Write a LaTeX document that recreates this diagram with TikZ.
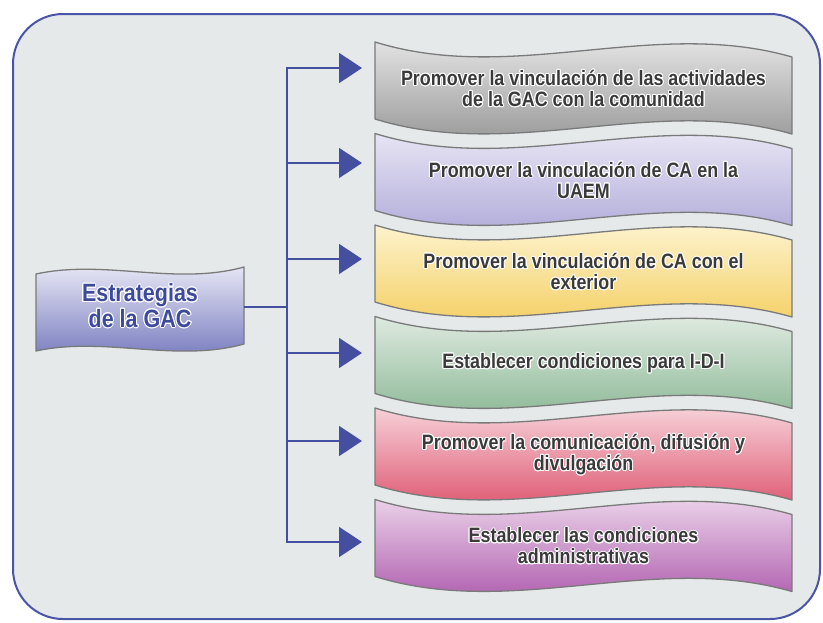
\documentclass[tikz,border=0pt]{standalone}
\usepackage{fontspec}
\setmainfont{Liberation Sans}[FakeStretch=0.86]
\usepackage[copies]{contour}
\contourlength{1.0pt}
\usetikzlibrary{arrows.meta}
\definecolor{frameblue}{HTML}{4A55A8}
\definecolor{bgcol}{HTML}{E5E9EA}
\definecolor{edgegray}{HTML}{7A7A7A}
\definecolor{txtgray}{HTML}{3A3A3A}
\definecolor{txtblue}{HTML}{3D4A9A}
\definecolor{conncol}{HTML}{444FA0}
\definecolor{lt}{HTML}{EEEEF8}\definecolor{lb}{HTML}{7276BC}
\definecolor{ta}{HTML}{F4F4F4}\definecolor{ba}{HTML}{8A8A8A}
\definecolor{tb}{HTML}{F4F2FA}\definecolor{bb}{HTML}{A6A0D4}
\definecolor{tc}{HTML}{FFFBE6}\definecolor{bc}{HTML}{F2C84E}
\definecolor{td}{HTML}{F2F6F2}\definecolor{bd}{HTML}{7DAF88}
\definecolor{te}{HTML}{FCEEF0}\definecolor{be}{HTML}{D9405E}
\definecolor{tf}{HTML}{F8ECF6}\definecolor{bf}{HTML}{A448A4}
\newcommand\halo[1]{\contour{white}{#1}}
\tikzset{
  wavebox/.style={draw=edgegray, line width=1.3pt, line join=round},
  rtext/.style={align=center, text=txtgray, font=\fontsize{20.8}{21}\selectfont\bfseries, inner sep=0pt},
  ltext/.style={align=center, text=txtblue, font=\fontsize{25}{22}\selectfont\bfseries, inner sep=0pt},
  conn/.style={draw=conncol, line width=1.8pt},
  arr/.style={conn, -{Triangle[length=23pt,width=30pt]}},
}
\newcommand\rwave[5]{%
  \path[wavebox, top color=#3, bottom color=#4]
    (375,#2) .. controls (514,#2+43) and (653,#2-25) .. (792,#2+15)
    -- (792,#2+92)
    .. controls (653,#2+52) and (514,#2+120) .. (375,#2+77) -- cycle;
  \node[rtext] (#1) at (583.5,#2+47) {#5};
}
\begin{document}
\begin{tikzpicture}[x=1pt,y=-1pt]
\useasboundingbox (0,0) rectangle (823,622);
\fill[white] (0,0) rectangle (823,622);
\draw[frameblue, line width=2pt, fill=bgcol, rounded corners=50pt] (13,14) rectangle (820,619);

% left box
\path[wavebox, top color=lt, bottom color=lb]
  (36,274) .. controls (105,259) and (175,286) .. (244,267)
  -- (244,344)
  .. controls (175,363) and (105,336) .. (36,351) -- cycle;
\node[ltext] (root) at (140,306) {\halo{Estrategias}\\\halo{de la GAC}};
\coordinate (rootR) at (244,307);

% right boxes
\rwave{b1}{42}{ta}{ba}{\halo{Promover la vinculación de las actividades}\\\halo{de la GAC con la comunidad}}
\rwave{b2}{133.5}{tb}{bb}{\halo{Promover la vinculación de CA en la}\\\halo{UAEM}}
\rwave{b3}{225}{tc}{bc}{\halo{Promover la vinculación de CA con el}\\\halo{exterior}}
\rwave{b4}{316.5}{td}{bd}{\halo{Establecer condiciones para I-D-I}}
\rwave{b5}{408}{te}{be}{\halo{Promover la comunicación, difusión y}\\\halo{divulgación}}
\rwave{b6}{499.5}{tf}{bf}{\halo{Establecer las condiciones}\\\halo{administrativas}}

% trunk coordinates
\coordinate (j) at (287,307);
\coordinate (t1) at (287,68);  \coordinate (a1) at (362,68);
\coordinate (t2) at (287,163); \coordinate (a2) at (362,163);
\coordinate (t3) at (287,259); \coordinate (a3) at (362,259);
\coordinate (t4) at (287,353); \coordinate (a4) at (362,353);
\coordinate (t5) at (287,441); \coordinate (a5) at (362,441);
\coordinate (t6) at (287,542); \coordinate (a6) at (362,542);

\draw[conn] (rootR) -- (j);
\draw[conn, line cap=rect] (t1) -- (t6);
\foreach \i in {1,...,6} \draw[arr] (t\i) -- (a\i);
\end{tikzpicture}
\end{document}
